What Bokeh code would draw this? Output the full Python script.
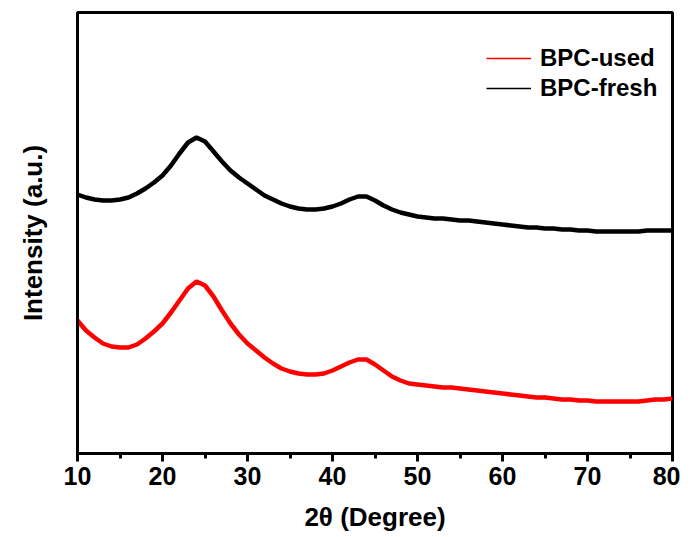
from bokeh.plotting import figure
from bokeh.models import SingleIntervalTicker, FixedTicker, Range1d, Legend, LegendItem
from bokeh.embed import file_html
from bokeh.resources import INLINE

# 2-theta positions (degrees)
two_theta = list(range(10, 81))

# Intensity (a.u.)
bpc_fresh = [259, 256, 254, 253, 253, 254, 256, 260, 265, 271,
             278, 288, 300, 311, 316, 312, 302, 292, 283, 276,
             270, 264, 258, 254, 250, 247, 245, 244, 244, 245,
             247, 250, 254, 257, 257, 253, 248, 244, 241, 239,
             237, 236, 235, 235, 234, 233, 233, 232, 231, 230,
             229, 228, 227, 226, 226, 225, 225, 224, 224, 223,
             223, 222, 222, 222, 222, 222, 222, 223, 223, 223,
             223]
bpc_used = [133, 123, 116, 110, 107, 106, 106, 109, 115, 122,
            130, 141, 153, 165, 172, 168, 157, 143, 130, 119,
            110, 103, 96, 90, 85, 82, 80, 79, 79, 80,
            83, 87, 91, 94, 94, 89, 83, 77, 73, 70,
            69, 68, 67, 66, 66, 65, 64, 63, 62, 61,
            60, 59, 58, 57, 56, 56, 55, 54, 54, 53,
            53, 52, 52, 52, 52, 52, 52, 53, 54, 54,
            55]

series_labels = ["BPC-used", "BPC-fresh"]
x_label = "2\u03b8 (Degree)"
y_label = "Intensity (a.u.)"

FONT = "Liberation Sans"

p = figure(width=680, height=535, output_backend="svg", toolbar_location=None,
           x_range=Range1d(10, 80), y_range=Range1d(0, 441),
           min_border_left=77, min_border_right=8, min_border_top=12, min_border_bottom=82)
p.background_fill_color = "white"
p.border_fill_color = "white"
p.grid.visible = False
p.outline_line_color = "black"
p.outline_line_width = 3

# thick traces (noisy band look)
p.line(two_theta, bpc_used, line_color="#ff0000", line_width=4.5)
p.line(two_theta, bpc_fresh, line_color="black", line_width=4.5)
# thin overlays of the same data, used as the (thin) legend keys
k_used = p.line(two_theta, bpc_used, line_color="#ff0000", line_width=1.5)
k_fresh = p.line(two_theta, bpc_fresh, line_color="black", line_width=1.5)

# x axis
xa = p.xaxis[0]
xa.ticker = SingleIntervalTicker(interval=10, num_minor_ticks=2)
xa.axis_line_width = 3
xa.major_tick_line_width = 3
xa.minor_tick_line_width = 3
xa.major_tick_out = 8
xa.major_tick_in = 0
xa.minor_tick_out = 5
xa.minor_tick_in = 0
xa.major_label_standoff = 5
xa.major_label_text_font = FONT
xa.major_label_text_font_style = "bold"
xa.major_label_text_font_size = "25px"
xa.major_label_text_color = "black"
xa.axis_label = x_label
xa.axis_label_text_font = FONT
xa.axis_label_text_font_style = "bold"
xa.axis_label_text_font_size = "26px"
xa.axis_label_text_color = "black"
xa.axis_label_standoff = 14

# y axis
ya = p.yaxis[0]
ya.ticker = FixedTicker(ticks=[])
ya.axis_line_width = 3
ya.major_tick_line_color = None
ya.minor_tick_line_color = None
ya.axis_label = y_label
ya.axis_label_text_font = FONT
ya.axis_label_text_font_style = "bold"
ya.axis_label_text_font_size = "26px"
ya.axis_label_text_color = "black"
ya.axis_label_standoff = 30

legend = Legend(items=[LegendItem(label=series_labels[0], renderers=[k_used]),
                       LegendItem(label=series_labels[1], renderers=[k_fresh])],
                location=(409, 351))
legend.border_line_color = None
legend.background_fill_alpha = 0
legend.label_text_font = FONT
legend.label_text_font_style = "bold"
legend.label_text_font_size = "24px"
legend.label_text_color = "black"
legend.glyph_width = 45
legend.label_standoff = 9
legend.padding = 5
legend.spacing = 2
legend.margin = 0
p.add_layout(legend)

open("out.html", "w").write(file_html(p, INLINE))
